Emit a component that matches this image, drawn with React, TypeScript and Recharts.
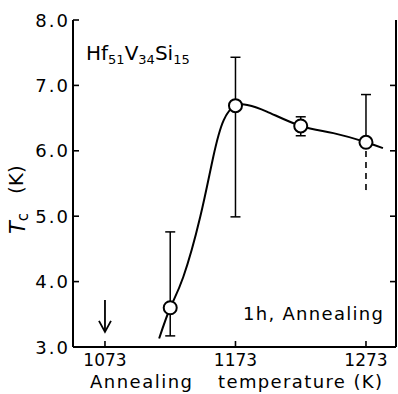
import { ComposedChart, ErrorBar, Line, ReferenceDot, Scatter, XAxis, YAxis } from 'recharts';

// tick values
const xTicks = [1073, 1173, 1273];
const yTicks = [3, 4, 5, 6, 7, 8];

// measured points: annealing temperature (K) vs Tc (K)
const tempK = [1123, 1173, 1223, 1273];
const tcK = [3.6, 6.69, 6.38, 6.13];
const errDown = [0.43, 1.7, 0.15, 0];
const errUp = [1.16, 0.74, 0.14, 0.73];

// dashed lower bar at 1273 K
const dashedTemp = [1273];
const dashedTc = [6.13];
const dashedDown = [0.73];

// hand drawn guide curve
const curveTemp = [1114.5, 1123, 1133, 1146, 1156, 1164, 1173, 1182, 1197, 1223, 1248, 1273, 1286];
const curveTc = [3.13, 3.6, 4.07, 4.99, 5.91, 6.47, 6.69, 6.7, 6.6, 6.38, 6.27, 6.13, 6.04];

const arrowTemp = 1073;
const arrowTc = 3.475;

const W = 398;
const H = 394;
const PLOT = { left: 73, right: 396, top: 20, bottom: 347 };
const FONT = '"DejaVu Sans", sans-serif';

const points = tempK.map((t, i) => ({ x: t, y: tcK[i], err: [errDown[i], errUp[i]] }));
const dashed = dashedTemp.map((t, i) => ({ x: t, y: dashedTc[i], err: [dashedDown[i], 0] }));
const curve = curveTemp.map((t, i) => ({ x: t, y: curveTc[i] }));

const BottomTick = (props: any) => {
    const { x, payload } = props;
    return (
        <g>
            <line x1={x} y1={PLOT.bottom} x2={x} y2={PLOT.bottom - 6} stroke="#000" strokeWidth={1.6} />
            <text x={x} y={366} textAnchor="middle" fontFamily={FONT} fontSize={17} fill="#000">
                {payload.value}
            </text>
        </g>
    );
};

const TopTick = (props: any) => {
    const { x } = props;
    return <line x1={x} y1={PLOT.top} x2={x} y2={PLOT.top + 6} stroke="#000" strokeWidth={1.6} />;
};

const LeftTick = (props: any) => {
    const { y, payload } = props;
    return (
        <g>
            <line x1={PLOT.left} y1={y} x2={PLOT.left + 6} y2={y} stroke="#000" strokeWidth={1.6} />
            <text x={70} y={y + 6.5} textAnchor="end" fontFamily={FONT} fontSize={18} letterSpacing={2} fill="#000">
                {payload.value.toFixed(1)}
            </text>
        </g>
    );
};

const RightTick = (props: any) => {
    const { y } = props;
    return <line x1={PLOT.right} y1={y} x2={PLOT.right - 6} y2={y} stroke="#000" strokeWidth={1.6} />;
};

const OpenCircle = (props: any) => {
    const { cx, cy } = props;
    return <circle cx={cx} cy={cy} r={6.5} fill="#fff" stroke="#000" strokeWidth={2} />;
};

const Nothing = () => <g />;

const DownArrow = (props: any) => {
    const { cx, cy } = props;
    return (
        <g stroke="#000" strokeWidth={1.8} fill="none">
            <line x1={cx} y1={cy - 16} x2={cx} y2={cy + 15} />
            <polyline points={`${cx - 6},${cy + 5} ${cx},${cy + 16} ${cx + 6},${cy + 5}`} />
        </g>
    );
};

const App = () => {
    return (
        <div style={{ position: 'absolute', left: 0, top: 0, width: W, height: H, background: '#fff' }}>
            <ComposedChart width={W} height={H} margin={{ top: PLOT.top, right: 0, bottom: 0, left: 0 }}>
                <XAxis
                    dataKey="x"
                    type="number"
                    domain={[1048.5, 1296]}
                    ticks={xTicks}
                    allowDataOverflow
                    height={H - PLOT.bottom}
                    axisLine={{ stroke: '#000', strokeWidth: 2 }}
                    tickLine={false}
                    tick={<BottomTick />}
                />
                <XAxis
                    xAxisId="top"
                    orientation="top"
                    type="number"
                    domain={[1048.5, 1296]}
                    ticks={xTicks}
                    allowDataOverflow
                    height={0}
                    axisLine={{ stroke: '#000', strokeWidth: 2 }}
                    tickLine={false}
                    tick={<TopTick />}
                />
                <YAxis
                    type="number"
                    domain={[3, 8]}
                    ticks={yTicks}
                    allowDataOverflow
                    width={PLOT.left}
                    axisLine={{ stroke: '#000', strokeWidth: 2 }}
                    tickLine={false}
                    tick={<LeftTick />}
                />
                <YAxis
                    yAxisId="right"
                    orientation="right"
                    type="number"
                    domain={[3, 8]}
                    ticks={[4, 5, 6, 7]}
                    allowDataOverflow
                    width={W - PLOT.right}
                    axisLine={{ stroke: '#000', strokeWidth: 2 }}
                    tickLine={false}
                    tick={<RightTick />}
                />
                <Line
                    data={curve}
                    dataKey="y"
                    type="natural"
                    stroke="#000"
                    strokeWidth={2}
                    dot={false}
                    activeDot={false}
                    isAnimationActive={false}
                />
                <Scatter data={dashed} dataKey="y" shape={<Nothing />} isAnimationActive={false}>
                    <ErrorBar dataKey="err" direction="y" width={0} stroke="#000" strokeWidth={1.6} strokeDasharray="6 5" />
                </Scatter>
                <Scatter data={points} dataKey="y" shape={<OpenCircle />} isAnimationActive={false}>
                    <ErrorBar dataKey="err" direction="y" width={5} stroke="#000" strokeWidth={1.5} />
                </Scatter>
                <ReferenceDot x={arrowTemp} y={arrowTc} shape={<DownArrow />} />
            </ComposedChart>
            <svg width={W} height={H} style={{ position: 'absolute', left: 0, top: 0, pointerEvents: 'none' }}>
                <text x={86} y={60} fontFamily={FONT} fontSize={20} fill="#000">
                    Hf<tspan fontSize={13} dy={4}>51</tspan>
                    <tspan dy={-4}>V</tspan>
                    <tspan fontSize={13} dy={4}>34</tspan>
                    <tspan dy={-4}>Si</tspan>
                    <tspan fontSize={13} dy={4}>15</tspan>
                </text>
                <text x={243} y={320} fontFamily={FONT} fontSize={18} fill="#000" textLength={140} lengthAdjust="spacing">
                    1h, Annealing
                </text>
                <text x={90} y={388} fontFamily={FONT} fontSize={18} fill="#000" textLength={102} lengthAdjust="spacing">
                    Annealing
                </text>
                <text x={218} y={388} fontFamily={FONT} fontSize={18} fill="#000" textLength={164} lengthAdjust="spacing">
                    temperature (K)
                </text>
                <text transform="translate(25, 234) rotate(-90)" fontFamily={FONT} fontSize={20} fill="#000">
                    <tspan fontStyle="italic" fontSize={21}>T</tspan>
                    <tspan fontSize={15} dy={3}>c</tspan>
                </text>
                <text transform="translate(23, 194) rotate(-90)" fontFamily={FONT} fontSize={20} fill="#000">
                    (K)
                </text>
            </svg>
        </div>
    );
};

export default App;
